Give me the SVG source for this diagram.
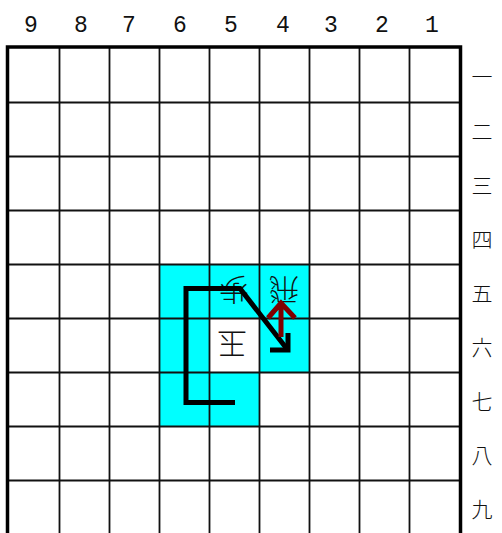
<svg xmlns="http://www.w3.org/2000/svg" width="502" height="533" viewBox="0 0 502 533">
<style>
.g{stroke:#111;stroke-width:1.8;fill:none}
.b{stroke:#000;stroke-width:3.5;fill:none}
.hl{fill:#00ffff}
.col{font-family:"Liberation Mono","DejaVu Sans Mono",monospace;font-size:23px;fill:#111;text-anchor:middle}
.row{font-family:"Noto Sans CJK JP",sans-serif;font-size:21px;fill:#111;text-anchor:middle;dominant-baseline:central;font-weight:300}
.pc{font-family:"Noto Sans CJK JP",sans-serif;font-size:30px;fill:#111;text-anchor:middle;dominant-baseline:central;font-weight:300}
.path{stroke:#000;stroke-width:5;fill:none;stroke-linejoin:miter}
.red{stroke:#800000;stroke-width:5;fill:none}
</style>
<rect width="502" height="533" fill="#fff"/>
<g id="highlight">
<rect class="hl" x="159.5" y="264.5" width="150" height="54"/>
<rect class="hl" x="159.5" y="318.5" width="50" height="54"/>
<rect class="hl" x="259.5" y="318.5" width="50" height="54"/>
<rect class="hl" x="159.5" y="372.5" width="100" height="54"/>
</g>
<g id="grid">
<path class="g" d="M59.5,47V533M109.5,47V533M159.5,47V533M209.5,47V533M259.5,47V533M309.5,47V533M359.5,47V533M409.5,47V533"/>
<path class="g" d="M7.5,102.5H460.5M7.5,156.5H460.5M7.5,210.5H460.5M7.5,264.5H460.5M7.5,318.5H460.5M7.5,372.5H460.5M7.5,426.5H460.5M7.5,480.5H460.5"/>
<path class="b" d="M7.5,533V47H460.5V533"/>
</g>
<g id="col-labels">
<text class="col" x="31" y="32">9</text>
<text class="col" x="81" y="32">8</text>
<text class="col" x="129" y="32">7</text>
<text class="col" x="180" y="32">6</text>
<text class="col" x="231" y="32">5</text>
<text class="col" x="283" y="32">4</text>
<text class="col" x="331" y="32">3</text>
<text class="col" x="382" y="32">2</text>
<text class="col" x="432" y="32">1</text>
</g>
<g id="row-labels">
<text class="row" x="482" y="75">一</text>
<text class="row" x="482" y="129.5">二</text>
<text class="row" x="482" y="183.5">三</text>
<text class="row" x="482" y="237.5">四</text>
<text class="row" x="482" y="291.5">五</text>
<text class="row" x="482" y="345.5">六</text>
<text class="row" x="482" y="399.5">七</text>
<text class="row" x="482" y="453.5">八</text>
<text class="row" x="482" y="507.5">九</text>
</g>
<g id="piece-55"><text class="pc" x="234" y="292" transform="rotate(180 234 292)">歩</text></g>
<g id="piece-45"><text class="pc" x="284" y="292" transform="rotate(180 284 292)">飛</text></g>
<g id="piece-56"><text class="pc" x="232" y="345.5" transform="rotate(180 232 345.5)">玉</text></g>
<g id="connectors">
<path class="path" d="M235,402.5H186V288.5H240L287,349"/>
<path class="path" d="M288,333V350H270"/>
<path class="red" d="M281,337V303M268,318L281,303L295,318"/>
</g>
</svg>
